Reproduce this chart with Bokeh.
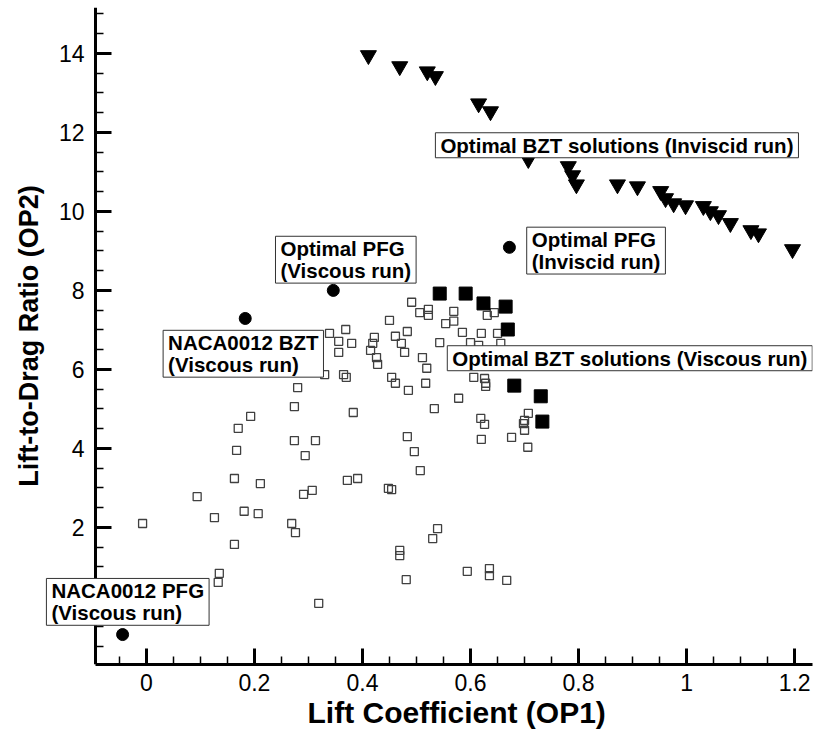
from bokeh.plotting import figure
from bokeh.models import Label, FixedTicker, Range1d, Title
from bokeh.embed import file_html
from bokeh.resources import INLINE
import numpy as np

# ---- data ----
# all evaluated designs, viscous run (hollow squares)
visc_x = [0.369, 0.356, 0.380, 0.356, 0.339, 0.330, 0.365, 0.370, 0.280, 0.274, 0.383, 0.193, 0.170, 0.274,
          0.313, 0.167, 0.294, 0.163, 0.211, 0.372, 0.391,
          0.094, 0.291, 0.307, 0.448, 0.181, 0.207, 0.126, -0.007, 0.269, 0.276, 0.163, 0.135, 0.133, 0.319,
          0.496, 0.507, 0.454, 0.706, 0.539, 0.530, 0.469, 0.469, 0.481, 0.594, 0.635, 0.635, 0.667,
          0.491, 0.506, 0.522, 0.522, 0.569, 0.569, 0.554, 0.644, 0.631, 0.450,
          0.483, 0.585, 0.620, 0.650, 0.422, 0.419, 0.461, 0.472, 0.415, 0.478,
          0.426, 0.428, 0.511, 0.519, 0.543, 0.600, 0.615, 0.656, 0.454, 0.461,
          0.517, 0.485, 0.606, 0.626, 0.628, 0.628, 0.578, 0.533, 0.619, 0.626,
          0.707, 0.700, 0.698, 0.700, 0.483, 0.620, 0.676]
visc_y = [7.01, 6.71, 6.66, 6.43, 6.91, 5.87, 5.87, 5.80, 5.54, 5.06, 4.91, 4.81, 4.51, 4.20,
          4.20, 3.95, 3.82, 3.24, 3.11, 3.19, 3.24,
          2.78, 2.84, 2.94, 2.99, 2.41, 2.35, 2.25, 2.10, 2.10, 1.87, 1.57, 0.84, 0.61, 0.08,
          3.92, 3.44, 2.96, 4.03, 1.97, 1.72, 1.42, 1.29, 0.68, 0.89, 0.96, 0.78, 0.66,
          7.70, 7.44, 7.52, 7.37, 7.47, 7.22, 7.16, 7.44, 7.37, 7.24,
          6.96, 6.94, 6.91, 6.91, 6.81, 6.66, 6.84, 6.66, 6.48, 6.43,
          6.30, 6.13, 6.30, 6.03, 6.68, 6.68, 6.61, 6.66, 5.80, 5.65,
          5.65, 5.47, 5.80, 5.77, 5.65, 5.57, 5.27, 5.01, 4.76, 4.61,
          4.89, 4.71, 4.63, 4.46, 4.30, 4.23, 4.28]

# optimal BZT solutions, viscous run (filled squares)
bzt_visc_x = [0.543, 0.591, 0.624, 0.665, 0.669, 0.681, 0.730, 0.733]
bzt_visc_y = [7.92, 7.92, 7.67, 7.59, 7.01, 5.59, 5.32, 4.68]

# optimal BZT solutions, inviscid run (filled inverted triangles)
bzt_inv_x = [0.411, 0.469, 0.520, 0.535, 0.615, 0.637, 0.707, 0.781, 0.789, 0.796, 0.872, 0.909,
             0.952, 0.961, 0.976, 0.998, 1.031, 1.044, 1.059, 1.081, 1.119, 1.133, 1.196]
bzt_inv_y = [13.95, 13.67, 13.54, 13.42, 12.73, 12.53, 11.32, 11.14, 10.91, 10.68, 10.68, 10.63,
             10.51, 10.33, 10.20, 10.15, 10.13, 10.00, 9.90, 9.70, 9.52, 9.44, 9.04]

# reference / PFG designs (filled circles)
ref_names = ["NACA0012 PFG (Viscous run)", "NACA0012 BZT (Viscous run)",
             "Optimal PFG (Viscous run)", "Optimal PFG (Inviscid run)"]
ref_x = [-0.044, 0.183, 0.346, 0.672]
ref_y = [-0.71, 7.29, 8.00, 9.09]

x_ticks = [0, 0.2, 0.4, 0.6, 0.8, 1, 1.2]
x_tick_labels = ["0", "0.2", "0.4", "0.6", "0.8", "1", "1.2"]
y_ticks = [0, 2, 4, 6, 8, 10, 12, 14]
y_tick_labels = ["0", "2", "4", "6", "8", "10", "12", "14"]

X_AXIS_START = -0.094   # where the vertical axis sits
FONT = "Liberation Sans"

p = figure(width=818, height=730, output_backend="svg", toolbar_location=None,
           x_range=Range1d(-0.270, 1.233), y_range=Range1d(-1.468, 15.16),
           min_border_left=0, min_border_right=6, min_border_top=7, min_border_bottom=66,
           y_axis_label="Lift-to-Drag Ratio (OP2)")
p.outline_line_color = None
p.grid.visible = False

p.xaxis.ticker = FixedTicker(ticks=x_ticks, minor_ticks=list(np.arange(-0.05, 1.25, 0.05)))
p.yaxis.ticker = FixedTicker(ticks=y_ticks, minor_ticks=list(np.arange(-1.0, 15.1, 0.5)))
p.xaxis.major_label_overrides = dict(zip(x_ticks, x_tick_labels))
p.yaxis.major_label_overrides = dict(zip(y_ticks, y_tick_labels))
p.xaxis.bounds = (X_AXIS_START, 1.233)
p.yaxis.fixed_location = X_AXIS_START

for ax in (p.xaxis[0], p.yaxis[0]):
    ax.axis_line_width = 3
    ax.axis_line_color = "black"
    ax.major_tick_in = 16
    ax.major_tick_out = 0
    ax.minor_tick_in = 8
    ax.minor_tick_out = 0
    ax.major_tick_line_width = 3
    ax.minor_tick_line_width = 1.5
    ax.major_tick_line_color = "black"
    ax.minor_tick_line_color = "black"
    ax.major_label_text_font = FONT
    ax.major_label_text_font_size = "23px"
    ax.major_label_text_color = "black"
    ax.axis_label_text_font = FONT
    ax.axis_label_text_font_style = "bold"
    ax.axis_label_text_color = "black"

p.yaxis.axis_label_text_font_size = "27px"
p.xaxis.major_label_standoff = 9
p.yaxis.major_label_standoff = 11
p.yaxis.axis_label_standoff = 12

# x-axis title, centred under the drawn axis rather than the whole frame
p.add_layout(Title(text="Lift Coefficient (OP1)", align="left", offset=307, standoff=0,
                   text_font=FONT, text_font_style="bold", text_font_size="30px",
                   text_color="black"), "below")

p.scatter(visc_x, visc_y, marker="square", size=8, fill_color=None,
          line_color="#404040", line_width=1.3)
p.scatter(bzt_visc_x, bzt_visc_y, marker="square", size=13, fill_color="black", line_color="black")
p.scatter(bzt_inv_x, bzt_inv_y, marker="inverted_triangle", size=16, fill_color="black", line_color="black")
p.scatter(ref_x, ref_y, marker="circle", size=12, fill_color="black", line_color="black")

labels = [
    ("NACA0012 PFG\n(Viscous run)", -0.185, 0.71),
    ("NACA0012 BZT\n(Viscous run)", 0.031, 6.99),
    ("Optimal PFG\n(Viscous run)", 0.239, 9.37),
    ("Optimal PFG\n(Inviscid run)", 0.704, 9.60),
    ("Optimal BZT solutions (Inviscid run)", 0.535, 11.99),
    ("Optimal BZT solutions (Viscous run)", 0.557, 6.60),
]
for txt, lx, ly in labels:
    p.add_layout(Label(x=lx, y=ly, text=txt, text_font=FONT, text_font_style="bold",
                       text_font_size="20.5px", text_line_height=0.95, text_color="black",
                       text_align="left", text_baseline="top",
                       border_line_color="#333333", border_line_width=1,
                       background_fill_color="white",
                       padding=dict(left=5, right=5, top=1, bottom=1)))

open("out.html", "w").write(file_html(p, INLINE))
